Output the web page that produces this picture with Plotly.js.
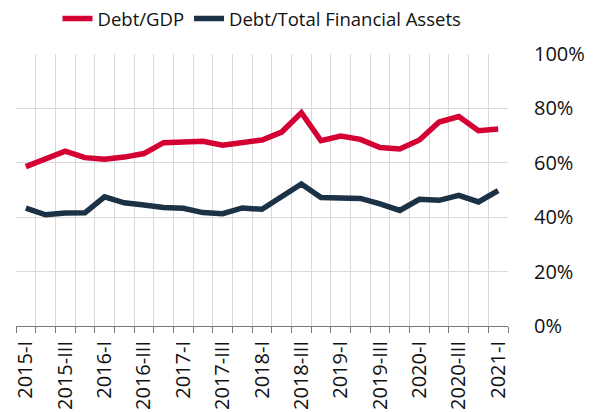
<!DOCTYPE html>
<html>
<head>
<meta charset="utf-8">
<script src="https://cdn.plot.ly/plotly-3.0.1.min.js"></script>
<style>html,body{margin:0;padding:0;background:#fff;}#chart{width:598px;height:412px;}</style>
</head>
<body>
<div id="chart"></div>
<script>
var quarters = ["2015-I","2015-II","2015-III","2015-IV","2016-I","2016-II","2016-III","2016-IV",
  "2017-I","2017-II","2017-III","2017-IV","2018-I","2018-II","2018-III","2018-IV",
  "2019-I","2019-II","2019-III","2019-IV","2020-I","2020-II","2020-III","2020-IV","2021-I"];
var tickLabels = ["2015-I","","2015-III","","2016-I","","2016-III","","2017-I","","2017-III","",
  "2018-I","","2018-III","","2019-I","","2019-III","","2020-I","","2020-III","","2021-I"];
var debtGDP = [58.6,61.4,64.3,61.9,61.3,62.1,63.4,67.4,67.8,67.9,66.5,67.4,68.4,71.3,78.4,68.1,69.8,68.6,65.6,65.1,68.4,75.0,77.0,71.8,72.4];
var debtTFA = [43.3,40.9,41.5,41.6,47.5,45.3,44.5,43.6,43.3,41.7,41.3,43.4,42.9,47.4,52.2,47.2,46.8,46.9,44.9,42.5,46.6,46.2,48.0,45.6,49.8];

var fontFam = '"Open Sans", "Noto Sans", sans-serif';
var traces = [
  {x: quarters, y: debtGDP, name: "Debt/GDP", type: "scatter", mode: "lines",
   line: {color: "#d40033", width: 5.5}},
  {x: quarters, y: debtTFA, name: "Debt/Total Financial Assets", type: "scatter", mode: "lines",
   line: {color: "#1b3145", width: 5.5}}
];
var layout = {
  width: 598, height: 412,
  margin: {l: 16, r: 90, t: 54, b: 86},
  paper_bgcolor: "#fff", plot_bgcolor: "#fff",
  font: {family: fontFam, color: "#111", size: 18},
  showlegend: true,
  legend: {orientation: "h", xref: "paper", yref: "container", x: 0.5, xanchor: "center",
    y: 1.0, yanchor: "top", font: {size: 18.5, color: "#111"}, tracegroupgap: 0},
  xaxis: {type: "category", tickmode: "array", tickvals: quarters, ticktext: tickLabels,
    range: [-0.5, 24.5], ticks: "", tickangle: -90,
    showgrid: false, showline: false, zeroline: false,
    tickfont: {size: 20, color: "#111"}, ticklabelstandoff: 10, fixedrange: true},
  xaxis2: {overlaying: "x", anchor: "y", side: "bottom", type: "linear", range: [-0.5, 24.5],
    tickmode: "linear", tick0: -0.5, dtick: 1, showticklabels: false,
    ticks: "outside", ticklen: 6, tickcolor: "#777",
    showgrid: true, gridcolor: "#d9d9d9", gridwidth: 1, zeroline: false,
    showline: true, linecolor: "#777", linewidth: 1, layer: "below traces", fixedrange: true},
  yaxis: {side: "right", range: [0, 100], dtick: 20, tickmode: "linear", ticksuffix: "%",
    showgrid: true, gridcolor: "#d9d9d9", gridwidth: 1, zeroline: false, showline: false,
    ticks: "outside", ticklen: 21, tickcolor: "rgba(0,0,0,0)",
    tickfont: {size: 20, color: "#111"}, fixedrange: true}
};
// invisible helper trace so the boundary axis (xaxis2) is drawn
traces.push({x: [-0.5, 24.5], y: [null, null], xaxis: "x2", yaxis: "y", type: "scatter",
  mode: "lines", showlegend: false, hoverinfo: "skip"});
Plotly.newPlot("chart", traces, layout, {displayModeBar: false, staticPlot: true});
</script>
</body>
</html>
